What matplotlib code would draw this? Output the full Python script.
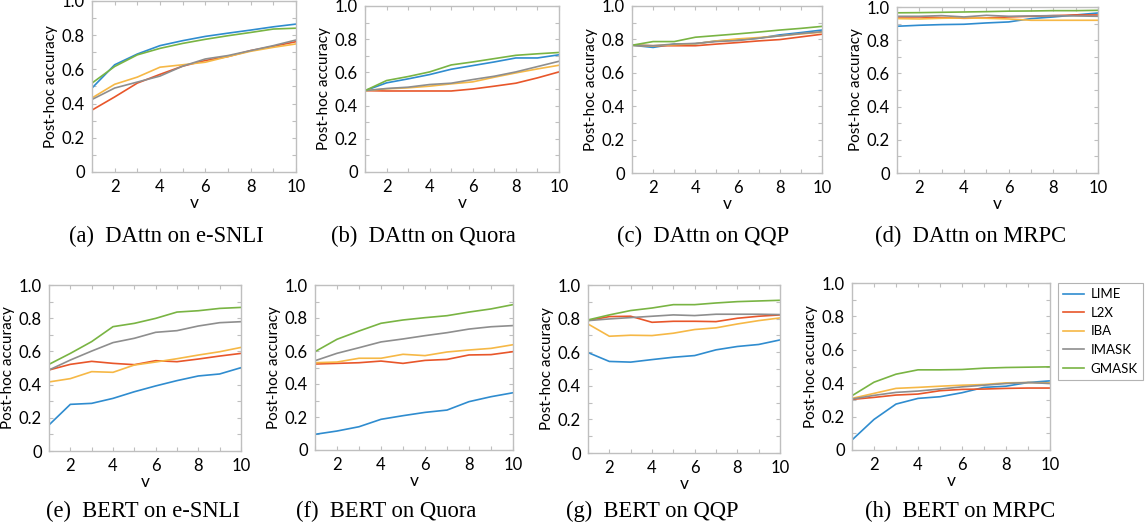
import matplotlib
matplotlib.use("Agg")
import matplotlib.pyplot as plt
from matplotlib.ticker import FixedLocator, FuncFormatter

W, H = 1145, 530

v = [1, 2, 3, 4, 5, 6, 7, 8, 9, 10]
methods = ["LIME", "L2X", "IBA", "IMASK", "GMASK"]
colors = ["#2f8ccf", "#e8562a", "#f6b846", "#8e8e8e", "#79b443"]

# each panel: rows in order LIME, L2X, IBA, IMASK, GMASK
dattn_esnli = [
    [0.491, 0.627, 0.690, 0.739, 0.768, 0.793, 0.812, 0.830, 0.849, 0.865],
    [0.362, 0.439, 0.520, 0.571, 0.619, 0.652, 0.675, 0.710, 0.735, 0.762],
    [0.433, 0.513, 0.555, 0.613, 0.627, 0.642, 0.675, 0.706, 0.729, 0.749],
    [0.424, 0.491, 0.526, 0.561, 0.619, 0.661, 0.681, 0.710, 0.739, 0.772],
    [0.520, 0.617, 0.685, 0.723, 0.752, 0.776, 0.797, 0.816, 0.836, 0.841],
]
dattn_quora = [
    [0.490, 0.537, 0.561, 0.587, 0.619, 0.641, 0.663, 0.687, 0.687, 0.706],
    [0.490, 0.488, 0.488, 0.488, 0.488, 0.500, 0.517, 0.535, 0.567, 0.603],
    [0.490, 0.501, 0.507, 0.517, 0.531, 0.543, 0.571, 0.597, 0.621, 0.643],
    [0.490, 0.503, 0.511, 0.527, 0.535, 0.557, 0.577, 0.603, 0.635, 0.667],
    [0.490, 0.551, 0.575, 0.603, 0.645, 0.663, 0.683, 0.703, 0.712, 0.720],
]
dattn_qqp = [
    [0.765, 0.752, 0.772, 0.774, 0.791, 0.797, 0.807, 0.827, 0.841, 0.856],
    [0.765, 0.762, 0.762, 0.762, 0.772, 0.781, 0.791, 0.799, 0.815, 0.831],
    [0.765, 0.762, 0.768, 0.774, 0.791, 0.803, 0.811, 0.821, 0.833, 0.843],
    [0.765, 0.762, 0.772, 0.776, 0.787, 0.793, 0.807, 0.821, 0.835, 0.846],
    [0.765, 0.787, 0.787, 0.813, 0.823, 0.833, 0.844, 0.856, 0.866, 0.878],
]
dattn_mrpc = [
    [0.884, 0.890, 0.894, 0.896, 0.904, 0.910, 0.930, 0.940, 0.952, 0.964],
    [0.940, 0.940, 0.936, 0.932, 0.934, 0.940, 0.944, 0.948, 0.952, 0.952],
    [0.930, 0.928, 0.932, 0.934, 0.932, 0.928, 0.920, 0.920, 0.920, 0.920],
    [0.944, 0.944, 0.948, 0.940, 0.950, 0.944, 0.946, 0.948, 0.946, 0.944],
    [0.965, 0.966, 0.968, 0.970, 0.972, 0.975, 0.976, 0.978, 0.978, 0.980],
]
bert_esnli = [
    [0.157, 0.281, 0.287, 0.317, 0.357, 0.392, 0.424, 0.452, 0.464, 0.502],
    [0.488, 0.522, 0.540, 0.528, 0.520, 0.544, 0.538, 0.554, 0.572, 0.588],
    [0.416, 0.436, 0.478, 0.474, 0.518, 0.536, 0.556, 0.578, 0.598, 0.624],
    [0.488, 0.548, 0.602, 0.653, 0.679, 0.715, 0.725, 0.753, 0.773, 0.779],
    [0.522, 0.588, 0.659, 0.749, 0.769, 0.799, 0.837, 0.845, 0.859, 0.865],
]
bert_quora = [
    [0.095, 0.115, 0.141, 0.186, 0.208, 0.228, 0.242, 0.293, 0.323, 0.347],
    [0.521, 0.525, 0.529, 0.539, 0.525, 0.543, 0.549, 0.576, 0.578, 0.596],
    [0.529, 0.533, 0.556, 0.556, 0.580, 0.572, 0.594, 0.606, 0.616, 0.638],
    [0.541, 0.586, 0.620, 0.655, 0.673, 0.693, 0.711, 0.733, 0.747, 0.754],
    [0.596, 0.671, 0.721, 0.768, 0.788, 0.802, 0.814, 0.836, 0.855, 0.881],
]
bert_qqp = [
    [0.598, 0.545, 0.541, 0.556, 0.570, 0.580, 0.614, 0.634, 0.646, 0.673],
    [0.788, 0.812, 0.814, 0.778, 0.784, 0.784, 0.782, 0.802, 0.814, 0.822],
    [0.768, 0.695, 0.701, 0.699, 0.713, 0.735, 0.745, 0.768, 0.788, 0.804],
    [0.788, 0.798, 0.806, 0.814, 0.822, 0.818, 0.826, 0.826, 0.826, 0.824],
    [0.792, 0.822, 0.848, 0.863, 0.883, 0.883, 0.893, 0.901, 0.905, 0.909],
]
bert_mrpc = [
    [0.060, 0.183, 0.275, 0.309, 0.319, 0.343, 0.375, 0.382, 0.404, 0.414],
    [0.303, 0.315, 0.329, 0.335, 0.355, 0.363, 0.365, 0.369, 0.371, 0.371],
    [0.309, 0.339, 0.369, 0.375, 0.382, 0.388, 0.392, 0.402, 0.404, 0.402],
    [0.305, 0.327, 0.345, 0.353, 0.365, 0.378, 0.388, 0.398, 0.404, 0.398],
    [0.325, 0.406, 0.454, 0.480, 0.480, 0.482, 0.490, 0.494, 0.496, 0.498],
]

panels = [dattn_esnli, dattn_quora, dattn_qqp, dattn_mrpc,
          bert_esnli, bert_quora, bert_qqp, bert_mrpc]
captions = ["(a)  DAttn on e-SNLI", "(b)  DAttn on Quora", "(c)  DAttn on QQP",
            "(d)  DAttn on MRPC", "(e)  BERT on e-SNLI", "(f)  BERT on Quora",
            "(g)  BERT on QQP", "(h)  BERT on MRPC"]

# layout (pixels: left, top, right, bottom)
rects = [(92, 1, 296, 172), (365, 6, 559, 172), (632, 6, 822, 173), (897, 7, 1098, 173),
         (49, 285, 241, 451), (315, 285, 513, 450), (588, 285, 780, 453), (852, 283, 1050, 450)]
cap_pos = [(166, 242), (423, 242), (703, 242), (971, 242),
           (143, 517), (386, 517), (652, 517), (960, 517)]

sans = ["Lato", "DejaVu Sans"]
fig = plt.figure(figsize=(W / 100, H / 100), dpi=100)
spine_c = "#bfbfbf"

handles = []
for i, (data, r) in enumerate(zip(panels, rects)):
    l, t, rr, b = r
    ax = fig.add_axes([l / W, 1 - b / H, (rr - l) / W, (b - t) / H])
    for k, series in enumerate(data):
        ln, = ax.plot(v, series, color=colors[k], lw=1.2, label=methods[k])
        if i == 0:
            handles.append(ln)
    ax.set_xlim(1, 10)
    ax.set_ylim(0, 1.0)
    ax.set_xticks([2, 4, 6, 8, 10])
    ax.xaxis.set_minor_locator(FixedLocator([1, 3, 5, 7, 9]))
    ax.set_yticks([0, 0.2, 0.4, 0.6, 0.8, 1.0])
    ax.yaxis.set_minor_locator(FixedLocator([0.1, 0.3, 0.5, 0.7, 0.9]))
    ax.yaxis.set_major_formatter(FuncFormatter(lambda y, p: "0" if abs(y) < 1e-9 else f"{y:.1f}"))
    ax.tick_params(which="both", direction="in", length=3, color=spine_c, width=0.8,
                   top=True, right=True, labelsize=12, pad=5)
    for s in ax.spines.values():
        s.set_color(spine_c)
        s.set_linewidth(1.0)
    for lab in ax.get_xticklabels() + ax.get_yticklabels():
        lab.set_family(sans)
    ax.set_xlabel("v", family=sans, fontsize=12.5, labelpad=0)
    ax.set_ylabel("Post-hoc accuracy", family=sans, fontsize=11, labelpad=3)
    cx, cy = cap_pos[i]
    fig.text(cx / W, 1 - cy / H, captions[i], family=["Liberation Serif", "DejaVu Serif"],
             fontsize=16.3, ha="center", va="baseline")

leg = fig.legend(handles=handles, labels=methods, loc="upper left",
                 bbox_to_anchor=(1058 / W, 1 - 283 / H), borderaxespad=0.0,
                 frameon=True, fancybox=False,
                 edgecolor="#a0a0a0", prop={"family": sans, "size": 9.5},
                 handlelength=1.6, labelspacing=0.5, borderpad=0.4, handletextpad=0.45)
leg.get_frame().set_linewidth(0.8)

fig.savefig("out.png", dpi=100)
